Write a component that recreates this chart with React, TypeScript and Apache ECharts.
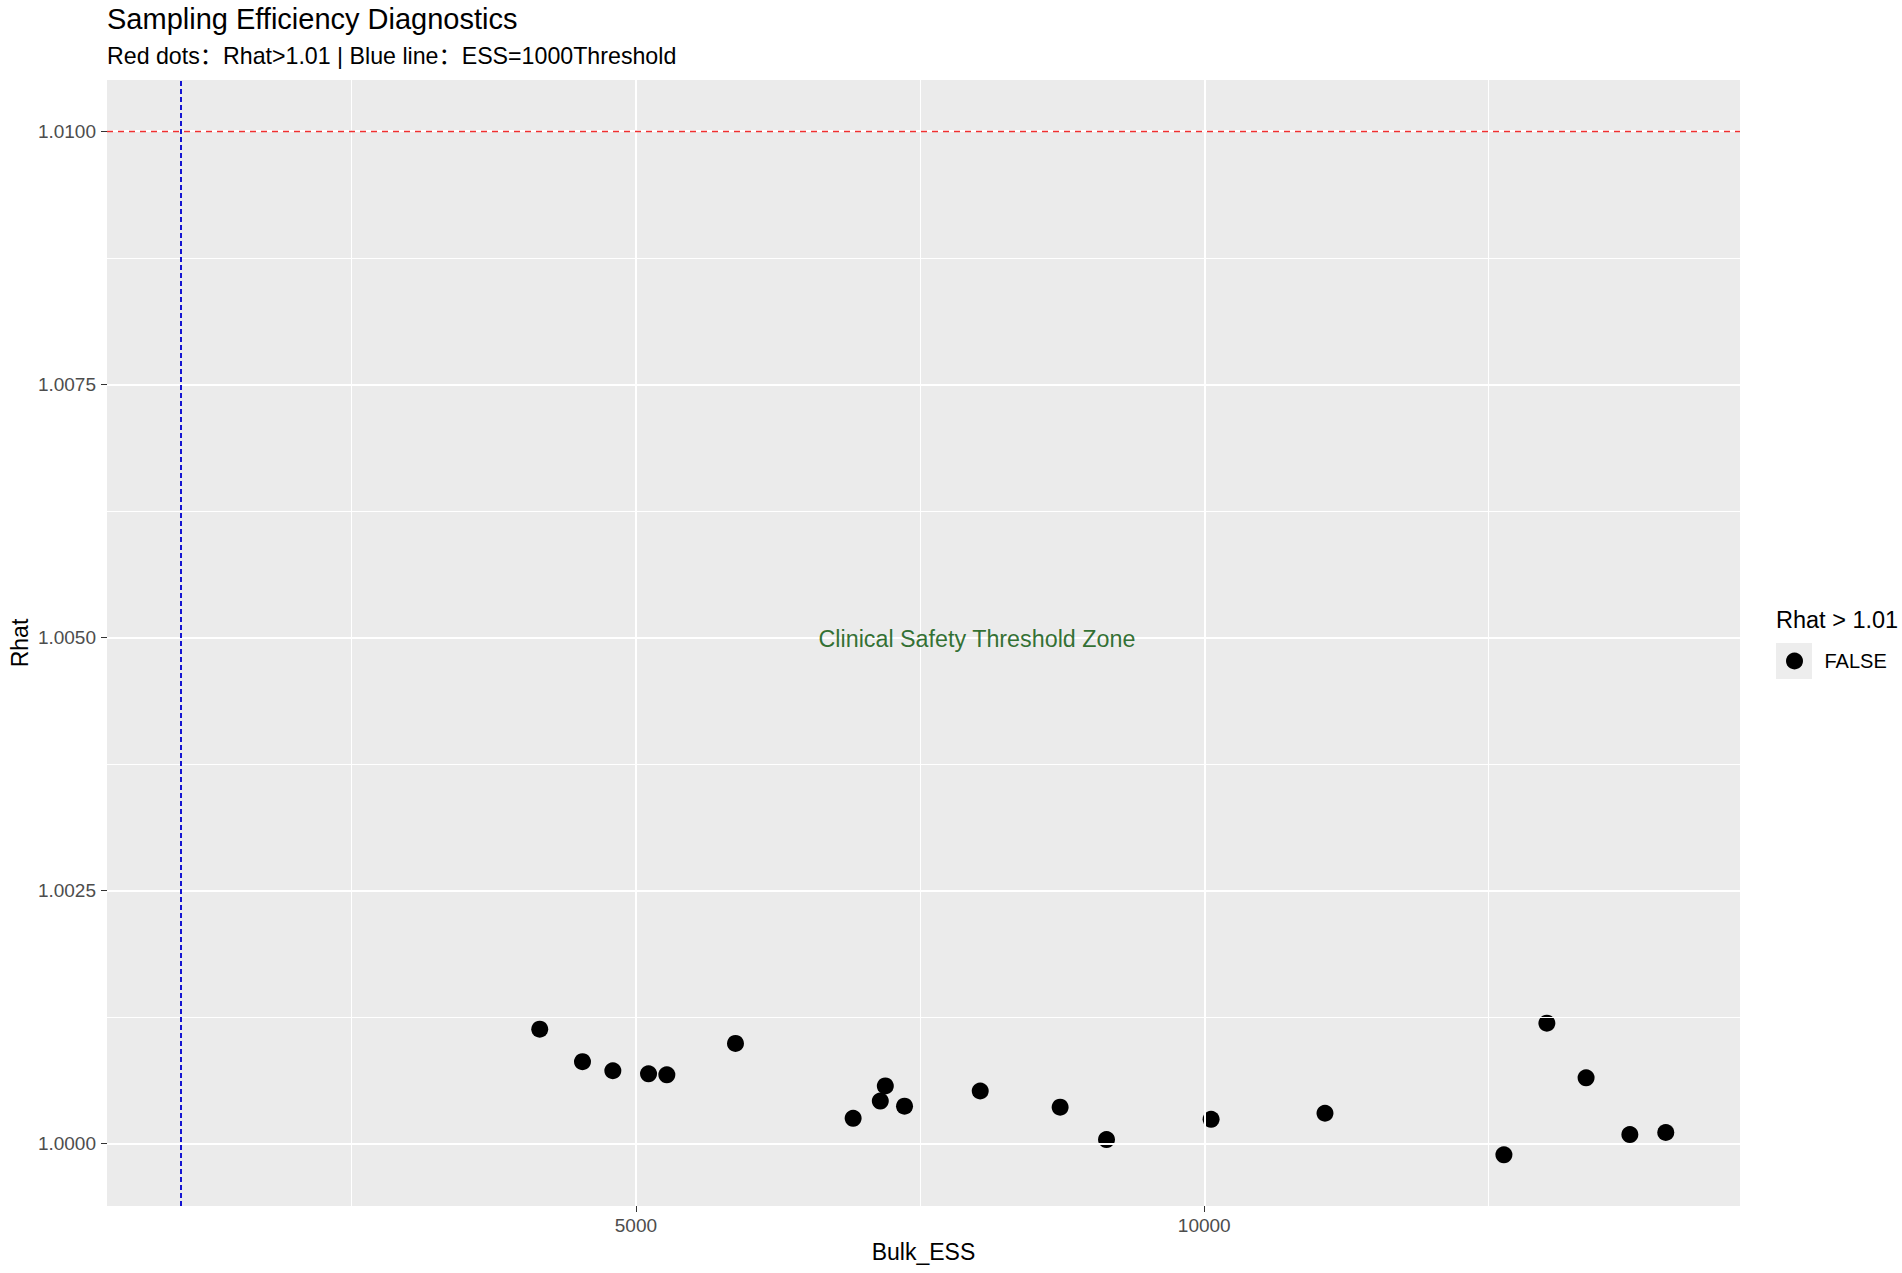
import React, { useEffect, useRef } from "react";
import * as echarts from "echarts";

// ---- data ----
const essValues = [4154, 4530, 4797, 5111, 5272, 5876, 6911, 7150, 7194, 7363, 8029, 8732, 9140, 10060, 11062, 12636, 13014, 13359, 13744, 14060];
const rhatValues = [1.00113, 1.00081, 1.00072, 1.00069, 1.00068, 1.00099, 1.00025, 1.00042, 1.00057, 1.00037, 1.00052, 1.00036, 1.00004, 1.00024, 1.0003, 0.99989, 1.00119, 1.00065, 1.00009, 1.00011];
const yMajorTicks = [1.0, 1.0025, 1.005, 1.0075, 1.01];
const yMinorLines = [1.00125, 1.00375, 1.00625, 1.00875];
const xMajorTicks = [5000, 10000];
const xMinorLines = [2500, 7500, 12500];
const rhatThreshold = 1.01;
const essThreshold = 1000;
const annotationPoint = [8000, 1.005];
const annotationText = "Clinical Safety Threshold Zone";
const xRange = [347, 14713];
const yRange = [0.999384, 1.010506];
const legendLabel = "FALSE";

const FONT = "'Liberation Sans', Arial, 'Noto Sans CJK SC', sans-serif";

export default function App() {
  const ref = useRef<HTMLDivElement>(null);
  useEffect(() => {
    if (!ref.current) return;
    const chart = echarts.init(ref.current, undefined, { renderer: "svg" });
    const hLine = (v: number, w: number) => [
      { coord: [xRange[0], v], lineStyle: { width: w } },
      { coord: [xRange[1], v] },
    ];
    const vLine = (v: number, w: number) => [
      { coord: [v, yRange[0]], lineStyle: { width: w } },
      { coord: [v, yRange[1]] },
    ];
    const gridLineData = [
      ...yMinorLines.map((v) => hLine(v, 1)),
      ...xMinorLines.map((v) => vLine(v, 1)),
      ...yMajorTicks.map((v) => hLine(v, 2)),
      ...xMajorTicks.map((v) => vLine(v, 2)),
    ];
    const option: any = {
      animation: false,
      textStyle: { fontFamily: FONT },
      title: [
        {
          text: "Sampling Efficiency Diagnostics",
          left: 107,
          top: 4,
          padding: 0,
          textStyle: { fontSize: 29, fontWeight: "normal", color: "#000", fontFamily: FONT },
        },
        {
          text: "Red dots：Rhat>1.01 | Blue line：ESS=1000Threshold",
          left: 107,
          top: 44,
          padding: 0,
          textStyle: { fontSize: 23.2, fontWeight: "normal", color: "#000", fontFamily: FONT },
        },
        {
          text: "Rhat > 1.01",
          left: 1776,
          top: 608,
          padding: 0,
          textStyle: { fontSize: 23.5, fontWeight: "normal", color: "#000", fontFamily: FONT },
        },
      ],
      legend: {
        data: [legendLabel],
        left: 1786,
        top: 651,
        padding: 0,
        orient: "vertical",
        icon: "circle",
        itemWidth: 36,
        itemHeight: 17,
        itemStyle: { opacity: 1, color: "#000" },
        textStyle: { fontSize: 20, color: "#000", fontFamily: FONT, padding: [0, 0, 0, 7] },
      },
      graphic: [
        {
          type: "rect",
          z: 1,
          shape: { x: 1776, y: 643, width: 36, height: 36 },
          style: { fill: "#EDEDED" },
        },
      ],
      grid: {
        left: 107,
        top: 80,
        right: 162,
        bottom: 67,
        show: true,
        backgroundColor: "#EBEBEB",
        borderWidth: 0,
        containLabel: false,
        outerBoundsMode: "none",
      },
      xAxis: {
        type: "value",
        min: xRange[0],
        max: xRange[1],
        name: "Bulk_ESS",
        nameLocation: "middle",
        nameGap: 34,
        nameMoveOverlap: false,
        nameTextStyle: { fontSize: 23, color: "#000", fontFamily: FONT },
        axisLine: { show: false, onZero: false },
        axisTick: { show: true, customValues: xMajorTicks, length: 6, lineStyle: { color: "#333333", width: 1 } },
        axisLabel: {
          customValues: xMajorTicks,
          fontSize: 19,
          color: "#4D4D4D",
          margin: 10,
          fontFamily: FONT,
          formatter: (v: number) => String(Math.round(v)),
        },
        splitLine: { show: false },
      },
      yAxis: {
        type: "value",
        min: yRange[0],
        max: yRange[1],
        name: "Rhat",
        nameLocation: "middle",
        nameGap: 76,
        nameMoveOverlap: false,
        nameRotate: 90,
        nameTextStyle: { fontSize: 23, color: "#000", fontFamily: FONT },
        axisLine: { show: false, onZero: false },
        axisTick: { show: true, customValues: yMajorTicks, length: 6, lineStyle: { color: "#333333", width: 1 } },
        axisLabel: {
          customValues: yMajorTicks,
          fontSize: 19,
          color: "#4D4D4D",
          margin: 11,
          fontFamily: FONT,
          formatter: (v: number) => v.toFixed(4),
        },
        splitLine: { show: false },
      },
      series: [
        {
          name: "grid-lines",
          type: "line",
          data: [],
          z: 1,
          silent: true,
          markLine: {
            silent: true,
            symbol: ["none", "none"],
            label: { show: false },
            lineStyle: { color: "#FFFFFF", type: "solid" },
            data: gridLineData,
          },
        },
        {
          name: "thresholds",
          type: "line",
          data: [],
          z: 2,
          silent: true,
          markLine: {
            silent: true,
            symbol: ["none", "none"],
            label: { show: false },
            data: [
              [
                { coord: [xRange[0], rhatThreshold], lineStyle: { color: "#F03030", type: [6, 5], width: 1.3 } },
                { coord: [xRange[1], rhatThreshold] },
              ],
              [
                { coord: [essThreshold, yRange[0]], lineStyle: { color: "#1414D2", type: [5, 3], width: 2 } },
                { coord: [essThreshold, yRange[1]] },
              ],
            ],
          },
        },
        {
          name: legendLabel,
          type: "scatter",
          z: 3,
          symbol: "circle",
          symbolSize: 17,
          itemStyle: { color: "#000000", opacity: 1 },
          data: essValues.map((x, i) => [x, rhatValues[i]]),
        },
        {
          name: "annotation",
          type: "scatter",
          z: 10,
          symbolSize: 1,
          itemStyle: { color: "rgba(0,0,0,0)" },
          silent: true,
          label: {
            show: true,
            position: "inside",
            offset: [0, 2],
            formatter: annotationText,
            fontSize: 23.3,
            color: "#004F00",
            textBorderWidth: 0,
            textBorderColor: "rgba(0,0,0,0)",
            fontFamily: FONT,
          },
          data: [annotationPoint],
        },
      ],
    };
    chart.setOption(option);
    return () => chart.dispose();
  }, []);
  return (
    <div
      ref={ref}
      style={{ position: "absolute", left: 0, top: 0, width: 1902, height: 1273, background: "#fff" }}
    />
  );
}
